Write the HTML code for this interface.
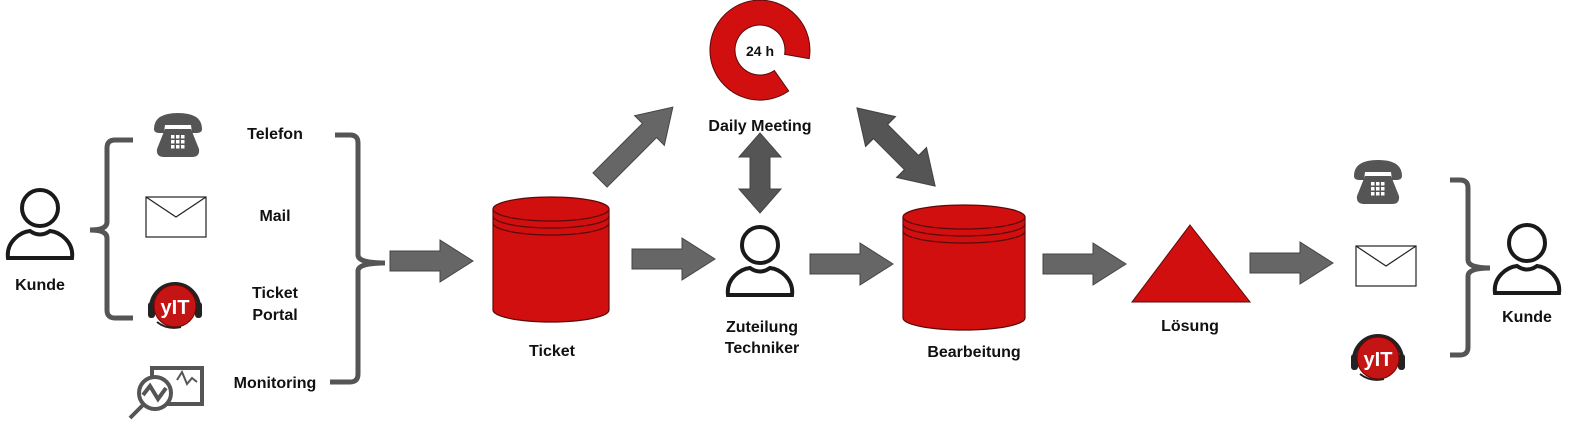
<!DOCTYPE html>
<html><head><meta charset="utf-8"><style>
body{margin:0;background:#fff}
svg text{font-family:"Liberation Sans",Arial,sans-serif;font-weight:bold;font-size:16px;fill:#111;text-anchor:middle}
</style></head><body>
<svg width="1588" height="427" viewBox="0 0 1588 427" xmlns="http://www.w3.org/2000/svg">
<defs>
<g id="arr"><polygon points="0,-10 50,-10 50,-21 83,0 50,21 50,10 0,10" fill="#666" stroke="#444" stroke-width="1"/></g>
<g id="dbl"><polygon points="0,0 24,-21 24,-10 56,-10 56,-21 80,0 56,21 56,10 24,10 24,21" fill="#555" stroke="#444" stroke-width="1"/></g>
<g id="person" fill="none" stroke="#1a1a1a" stroke-width="4"><circle cx="0" cy="-20" r="18"/><path d="M-32,30 C-34,14 -20,4 -10,3 Q0,10 10,3 C20,4 34,14 32,30 Z"/></g>
<g id="phone"><path d="M-24,-6 Q-24,-22 0,-22 Q24,-22 24,-6 Q24,-2 18,-2 L14,-2 L13,-10 L-13,-10 L-14,-2 L-18,-2 Q-24,-2 -24,-6 Z" fill="#555"/><path d="M-13,-6 L13,-6 L21,14 Q22,22 14,22 L-14,22 Q-22,22 -21,14 Z" fill="#555"/><g fill="#fff"><rect x="-7" y="0" width="3.5" height="3.5"/><rect x="-2" y="0" width="3.5" height="3.5"/><rect x="3" y="0" width="3.5" height="3.5"/><rect x="-7" y="5" width="3.5" height="3.5"/><rect x="-2" y="5" width="3.5" height="3.5"/><rect x="3" y="5" width="3.5" height="3.5"/><rect x="-7" y="10" width="3.5" height="3.5"/><rect x="-2" y="10" width="3.5" height="3.5"/><rect x="3" y="10" width="3.5" height="3.5"/></g></g>
<g id="mail"><rect x="0" y="0" width="60" height="40" fill="#fff" stroke="#222" stroke-width="1.2"/><path d="M0,0 L30,20 L60,0" fill="none" stroke="#222" stroke-width="1.2"/></g>
<g id="yit"><path d="M-24,8 A24,24 0 0 1 24,8" fill="none" stroke="#222" stroke-width="4"/><rect x="-27" y="2" width="7" height="16" rx="3" fill="#222"/><rect x="20" y="2" width="7" height="16" rx="3" fill="#222"/><circle cx="0" cy="6" r="21" fill="#c41414" stroke="#700" stroke-width="1"/><path d="M-18,22 Q-8,30 6,27" fill="none" stroke="#222" stroke-width="2"/><text x="0" y="14" style="font-size:20px;fill:#fff;font-weight:bold">yIT</text></g>
</defs>

<use href="#person" x="40" y="228"/>
<text x="40" y="290">Kunde</text>
<path d="M133,140 L115,140 Q107,140 107,148 L107,222 Q107,230 90,230 Q107,230 107,238 L107,310 Q107,318 115,318 L133,318" fill="none" stroke="#555" stroke-width="5"/>
<use href="#phone" x="178" y="135"/>
<use href="#mail" x="146" y="197"/>
<use href="#yit" x="175" y="300"/>
<g fill="none" stroke="#555" stroke-width="4"><rect x="152" y="368" width="50" height="36"/><circle cx="155" cy="393" r="16" fill="#fff"/><path d="M143,395 L150,386 L158,399 L166,388"/><path d="M143,405 L130,418"/><path d="M177,380 L182,372 L187,384 L192,378 L197,382" stroke-width="2"/></g>
<text x="275" y="139">Telefon</text>
<text x="275" y="221">Mail</text>
<text x="275" y="298">Ticket</text>
<text x="275" y="320">Portal</text>
<text x="275" y="388">Monitoring</text>
<path d="M335,135 L350,135 Q358,135 358,143 L358,255 Q358,263 385,263 Q358,263 358,271 L358,374 Q358,382 350,382 L330,382" fill="none" stroke="#555" stroke-width="5"/>

<use href="#arr" x="390" y="261"/>

<g stroke="#5a0a0a" stroke-width="1.2"><path d="M493,209 L493,310 A58,12 0 0 0 609,310 L609,209" fill="#d10f0f"/><ellipse cx="551" cy="209" rx="58" ry="12" fill="#d10f0f"/><path d="M493,216 A58,12 0 0 0 609,216 M493,223 A58,12 0 0 0 609,223" fill="none"/></g>
<text x="552" y="356">Ticket</text>

<use href="#arr" x="632" y="259"/>
<use href="#person" x="760" y="265"/>
<text x="762" y="332">Zuteilung</text>
<text x="762" y="353">Techniker</text>
<use href="#arr" x="810" y="264"/>

<g stroke="#5a0a0a" stroke-width="1.2"><path d="M903,217 L903,318 A61,12 0 0 0 1025,318 L1025,217" fill="#d10f0f"/><ellipse cx="964" cy="217" rx="61" ry="12" fill="#d10f0f"/><path d="M903,224 A61,12 0 0 0 1025,224 M903,231 A61,12 0 0 0 1025,231" fill="none"/></g>
<text x="974" y="357">Bearbeitung</text>

<use href="#arr" x="1043" y="264"/>
<polygon points="1190,225 1250,302 1132,302" fill="#d10f0f" stroke="#5a0a0a" stroke-width="1"/>
<text x="1190" y="331">Lösung</text>
<use href="#arr" x="1250" y="263"/>

<use href="#phone" x="1378" y="182"/>
<use href="#mail" x="1356" y="246"/>
<use href="#yit" x="1378" y="352"/>
<path d="M1450,180 L1460,180 Q1468,180 1468,188 L1468,260 Q1468,268 1490,268 Q1468,268 1468,276 L1468,347 Q1468,355 1460,355 L1450,355" fill="none" stroke="#555" stroke-width="5"/>
<use href="#person" x="1527" y="263"/>
<text x="1527" y="322">Kunde</text>

<path d="M788.7,91 A50,50 0 1 1 809.2,58.7 L784.6,54.3 A25,25 0 1 0 774.3,70.5 Z" fill="#d10f0f" stroke="#5a0a0a" stroke-width="1"/>
<text x="760" y="56" style="font-size:14px">24 h</text>
<text x="760" y="131">Daily Meeting</text>
<g transform="translate(600,180) rotate(-45)"><polygon points="0,-10 70,-10 70,-21 103,0 70,21 70,10 0,10" fill="#666" stroke="#444" stroke-width="1"/></g>
<g transform="translate(760,133) rotate(90)"><use href="#dbl"/></g>
<g transform="translate(857,108) rotate(45)"><use href="#dbl" transform="scale(1.38,1)"/></g>
</svg>
</body></html>
